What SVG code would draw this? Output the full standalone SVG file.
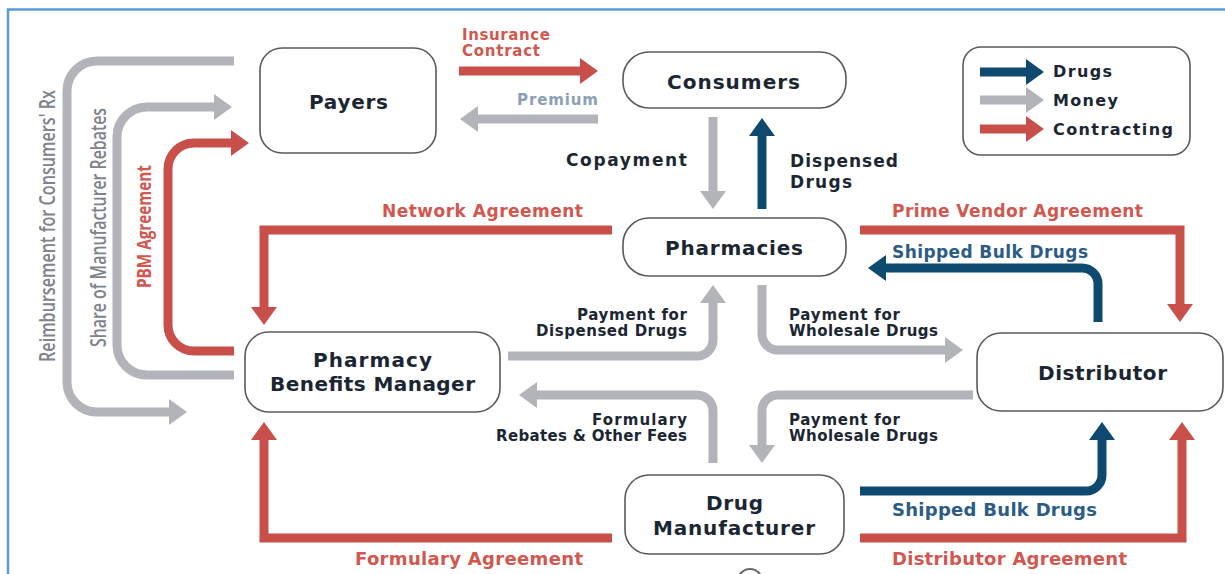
<svg xmlns="http://www.w3.org/2000/svg" width="1225" height="574" viewBox="0 0 1225 574">
<style>
.node{fill:#fff;stroke:#5a5a5a;stroke-width:1.6}
.nt{font-family:"DejaVu Sans","Open Sans",sans-serif;font-weight:700;font-size:20px;fill:#1c2633;text-anchor:middle}
.lb{font-family:"DejaVu Sans","Open Sans",sans-serif;font-weight:700;font-size:15px}
.rl{font-family:"Open Sans","DejaVu Sans",sans-serif;font-weight:600;font-size:21px}
.dk{fill:#1c2633}
.rd{fill:#d1574f}
.bl{fill:#2c5c85}
.gy{fill:#80838c}
.pm{fill:#8aa0b6}
.c{fill:none;stroke-width:9}
.cr{stroke:#c9504a}
.cg{stroke:#b2b4ba}
.cb{stroke:#0e4a6f}
</style>
<defs>
<marker id="ar" viewBox="0 0 18 26" markerWidth="18" markerHeight="26" refX="0" refY="13" orient="auto" markerUnits="userSpaceOnUse"><path d="M0,0 L18,13 L0,26 z" fill="#c9504a"/></marker>
<marker id="ag" viewBox="0 0 18 26" markerWidth="18" markerHeight="26" refX="0" refY="13" orient="auto" markerUnits="userSpaceOnUse"><path d="M0,0 L18,13 L0,26 z" fill="#b2b4ba"/></marker>
<marker id="ab" viewBox="0 0 18 26" markerWidth="18" markerHeight="26" refX="0" refY="13" orient="auto" markerUnits="userSpaceOnUse"><path d="M0,0 L18,13 L0,26 z" fill="#0e4a6f"/></marker>
</defs>
<rect width="1225" height="574" fill="#fff"/>
<path d="M8,574 V9.5 H1225" fill="none" stroke="#5b9bd5" stroke-width="2.5"/>
<circle cx="750" cy="581" r="12" fill="none" stroke="#666" stroke-width="2"/>

<g id="connectors">
<path class="c cr" d="M459,71 H580" marker-end="url(#ar)"/>
<path class="c cg" d="M598,119 H478" marker-end="url(#ag)"/>
<path class="c cg" d="M713,117 V191" marker-end="url(#ag)"/>
<path class="c cb" d="M762,209 V136" marker-end="url(#ab)"/>
<path class="c cr" d="M612,230 H264 V307" marker-end="url(#ar)"/>
<path class="c cr" d="M860,230 H1180 V304" marker-end="url(#ar)"/>
<path class="c cb" d="M1098,322 V284 A16,16 0 0 0 1082,268 H886" marker-end="url(#ab)"/>
<path class="c cg" d="M508,356 H697 A16,16 0 0 0 713,340 V303" marker-end="url(#ag)"/>
<path class="c cg" d="M762,285 V334 A16,16 0 0 0 778,350 H945" marker-end="url(#ag)"/>
<path class="c cg" d="M713,463 V411 A16,16 0 0 0 697,395 H537" marker-end="url(#ag)"/>
<path class="c cg" d="M973,395 H778 A16,16 0 0 0 762,411 V445" marker-end="url(#ag)"/>
<path class="c cb" d="M860,491 H1086 A16,16 0 0 0 1102,475 V440" marker-end="url(#ab)"/>
<path class="c cr" d="M860,538 H1182 V440" marker-end="url(#ar)"/>
<path class="c cr" d="M612,538 H264 V440" marker-end="url(#ar)"/>
<path class="c cr" d="M234,351 H194 A26,26 0 0 1 168,325 V169 A26,26 0 0 1 194,143 H231" marker-end="url(#ar)"/>
<path class="c cg" d="M234,375 H147 A30,30 0 0 1 117,345 V137 A30,30 0 0 1 147,107 H214" marker-end="url(#ag)"/>
<path class="c cg" d="M234,61 H97 A30,30 0 0 0 67,91 V382 A30,30 0 0 0 97,412 H169" marker-end="url(#ag)"/>

<text class="lb rd" x="462" y="40" textLength="88">Insurance</text>
<text class="lb rd" x="462" y="56" textLength="78">Contract</text>
<text class="lb pm" x="517" y="105" textLength="81">Premium</text>
<text class="lb dk" x="566" y="166" textLength="121" style="font-size:17px">Copayment</text>
<text class="lb dk" x="790" y="167" textLength="108" style="font-size:17px">Dispensed</text>
<text class="lb dk" x="790" y="188" textLength="62" style="font-size:17px">Drugs</text>
<text class="lb rd" x="382" y="217" textLength="201" style="font-size:17px">Network Agreement</text>
<text class="lb rd" x="892" y="217" textLength="251" style="font-size:17px">Prime Vendor Agreement</text>
<text class="lb bl" x="892" y="258" textLength="196" style="font-size:17px">Shipped Bulk Drugs</text>
<text class="lb dk" x="577" y="320" textLength="110">Payment for</text>
<text class="lb dk" x="536" y="336" textLength="151">Dispensed Drugs</text>
<text class="lb dk" x="789" y="320" textLength="111">Payment for</text>
<text class="lb dk" x="789" y="336" textLength="149">Wholesale Drugs</text>
<text class="lb dk" x="592" y="425" textLength="95">Formulary</text>
<text class="lb dk" x="496" y="441" textLength="191">Rebates &amp; Other Fees</text>
<text class="lb dk" x="789" y="425" textLength="111">Payment for</text>
<text class="lb dk" x="789" y="441" textLength="149">Wholesale Drugs</text>
<text class="lb bl" x="892" y="516" textLength="205" style="font-size:18px">Shipped Bulk Drugs</text>
<text class="lb rd" x="892" y="565" textLength="235" style="font-size:18px">Distributor Agreement</text>
<text class="lb rd" x="355" y="565" textLength="228" style="font-size:18px">Formulary Agreement</text>
<text class="rl gy" transform="translate(55,362) rotate(-90)" textLength="272" lengthAdjust="spacingAndGlyphs">Reimbursement for Consumers' Rx</text>
<text class="rl gy" transform="translate(106,347) rotate(-90)" textLength="239" lengthAdjust="spacingAndGlyphs">Share of Manufacturer Rebates</text>
<text class="rl rd" transform="translate(151,288) rotate(-90)" textLength="123" lengthAdjust="spacingAndGlyphs" style="font-weight:700;font-size:19px">PBM Agreement</text>
</g>

<g id="payers"><rect class="node" x="260" y="48" width="176" height="105" rx="22"/><text class="nt" x="348.5" y="109" textLength="79">Payers</text></g>
<g id="consumers"><rect class="node" x="623" y="52" width="223" height="56" rx="26"/><text class="nt" x="733.5" y="89" textLength="133">Consumers</text></g>
<g id="pharmacies"><rect class="node" x="623" y="218" width="223" height="58" rx="26"/><text class="nt" x="734" y="255" textLength="138">Pharmacies</text></g>
<g id="pbm"><rect class="node" x="245" y="332" width="255" height="80" rx="24"/><text class="nt" x="372.5" y="367" textLength="119">Pharmacy</text><text class="nt" x="372.5" y="391" textLength="205">Benefits Manager</text></g>
<g id="distributor"><rect class="node" x="977" y="333" width="246" height="78" rx="24"/><text class="nt" x="1102.5" y="380" textLength="129">Distributor</text></g>
<g id="manufacturer"><rect class="node" x="625" y="475" width="219" height="79" rx="24"/><text class="nt" x="734.5" y="510" textLength="57">Drug</text><text class="nt" x="734" y="535" textLength="162">Manufacturer</text></g>

<g id="legend">
<rect class="node" x="963" y="47" width="227" height="108" rx="18"/>
<path class="c cb" d="M980,72 H1026" marker-end="url(#ab)"/>
<path class="c cg" d="M980,100 H1026" marker-end="url(#ag)"/>
<path class="c cr" d="M980,129 H1026" marker-end="url(#ar)"/>
<text class="lb dk" x="1053" y="77" textLength="59" style="font-size:16px">Drugs</text>
<text class="lb dk" x="1053" y="106" textLength="65" style="font-size:16px">Money</text>
<text class="lb dk" x="1053" y="135" textLength="120" style="font-size:16px">Contracting</text>
</g>
</svg>
